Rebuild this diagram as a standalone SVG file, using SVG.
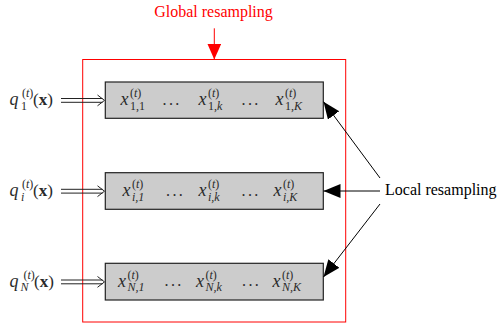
<svg xmlns="http://www.w3.org/2000/svg" width="497" height="324" viewBox="0 0 497 324">
<defs>
<style>
.box{fill:#cccccc;stroke:#222;stroke-width:1.2}
.m{font-family:"Liberation Serif","DejaVu Serif",serif;font-style:italic;font-size:18px;fill:#2a2a2a}
.s{font-family:"Liberation Serif","DejaVu Serif",serif;font-size:12px;fill:#2a2a2a}
.si{font-family:"Liberation Serif","DejaVu Serif",serif;font-style:italic;font-size:12px;fill:#2a2a2a}
.u{font-family:"Liberation Serif","DejaVu Serif",serif;font-size:17px;fill:#2a2a2a}
.b{font-family:"Liberation Serif","DejaVu Serif",serif;font-weight:bold;font-size:17px;fill:#2a2a2a}
.d{font-family:"Liberation Serif","DejaVu Serif",serif;font-size:16px;fill:#2a2a2a;letter-spacing:2.4px}
.lbl{font-family:"Liberation Serif","DejaVu Serif",serif;font-size:16px}
.dbl{stroke:#222;stroke-width:1;fill:none}
.blk{stroke:#000;stroke-width:1;fill:none}
</style>
<marker id="ah" markerUnits="userSpaceOnUse" markerWidth="18" markerHeight="15" refX="17" refY="7" orient="auto">
<path d="M0,0 L17,7 L0,14 z" fill="#000"/>
</marker>
<marker id="ahr" markerUnits="userSpaceOnUse" markerWidth="18" markerHeight="15" refX="16" refY="7" orient="auto">
<path d="M0,0 L16,7 L0,14 z" fill="#ff0000"/>
</marker>
</defs>
<rect width="497" height="324" fill="#fff"/>

<g id="global">
<rect x="82.7" y="59.5" width="263" height="262.5" fill="none" stroke="#ff0000" stroke-width="1"/>
<text class="lbl" x="213.5" y="17" text-anchor="middle" fill="#ff0000">Global resampling</text>
</g>

<g id="row1">
<rect class="box" x="105.3" y="82" width="218" height="36.3"/>
<text class="m" x="120.5" y="105">x</text><text class="s" x="130" y="97">(<tspan class="si">t</tspan>)</text><text class="s" x="130" y="109.5">1,1</text>
<text class="d" x="162.5" y="104.5">...</text>
<text class="m" x="198.5" y="105">x</text><text class="s" x="208" y="97">(<tspan class="si">t</tspan>)</text><text class="s" x="208" y="109.5">1,<tspan class="si">k</tspan></text>
<text class="d" x="241.5" y="104.5">...</text>
<text class="m" x="275.5" y="105">x</text><text class="s" x="285" y="97">(<tspan class="si">t</tspan>)</text><text class="s" x="285" y="109.5">1,<tspan class="si">K</tspan></text>
</g>

<g id="row2">
<rect class="box" x="105.3" y="172.7" width="218" height="36.6"/>
<text class="m" x="122.5" y="196">x</text><text class="s" x="132" y="188">(<tspan class="si">t</tspan>)</text><text class="si" x="132" y="200.5">i<tspan class="s">,1</tspan></text>
<text class="d" x="166" y="195.5">...</text>
<text class="m" x="198.5" y="196">x</text><text class="s" x="208" y="188">(<tspan class="si">t</tspan>)</text><text class="si" x="208" y="200.5">i<tspan class="s">,</tspan>k</text>
<text class="d" x="241.5" y="195.5">...</text>
<text class="m" x="273.5" y="196">x</text><text class="s" x="283" y="188">(<tspan class="si">t</tspan>)</text><text class="si" x="283" y="200.5">i<tspan class="s">,</tspan>K</text>
</g>

<g id="row3">
<rect class="box" x="105.3" y="263.3" width="218" height="36.7"/>
<text class="m" x="118" y="286.5">x</text><text class="s" x="127.5" y="278.5">(<tspan class="si">t</tspan>)</text><text class="si" x="127.5" y="291">N<tspan class="s">,1</tspan></text>
<text class="d" x="164.5" y="286">...</text>
<text class="m" x="196" y="286.5">x</text><text class="s" x="205.5" y="278.5">(<tspan class="si">t</tspan>)</text><text class="si" x="205.5" y="291">N<tspan class="s">,</tspan>k</text>
<text class="d" x="242" y="286">...</text>
<text class="m" x="272.5" y="286.5">x</text><text class="s" x="282" y="278.5">(<tspan class="si">t</tspan>)</text><text class="si" x="282" y="291">N<tspan class="s">,</tspan>K</text>
</g>

<g id="in1">
<text class="m" x="9.5" y="105">q</text><text class="s" x="22" y="97">(<tspan class="si">t</tspan>)</text><text class="s" x="21" y="109.5">1</text>
<text class="u" x="33" y="105">(<tspan class="b">x</tspan>)</text>
</g>
<g id="in2">
<text class="m" x="9.5" y="196">q</text><text class="s" x="22" y="188">(<tspan class="si">t</tspan>)</text><text class="si" x="21" y="200.5">i</text>
<text class="u" x="33" y="196">(<tspan class="b">x</tspan>)</text>
</g>
<g id="in3">
<text class="m" x="9.5" y="286.5">q</text><text class="s" x="23.5" y="278.5">(<tspan class="si">t</tspan>)</text><text class="si" x="20.5" y="291">N</text>
<text class="u" x="34" y="286.5">(<tspan class="b">x</tspan>)</text>
</g>

<g id="local">
<text class="lbl" x="385" y="195" fill="#000">Local resampling</text>
</g>

<g id="connectors">
<path class="dbl" d="M61,98.5 H102.5 M61,102.3 H102.5 M97.5,95 L104.5,100.4 L97.5,105.8"/>
<path class="dbl" d="M61,189.3 H102.5 M61,193.1 H102.5 M97.5,185.8 L104.5,191.2 L97.5,196.6"/>
<path class="dbl" d="M61,280 H102.5 M61,283.8 H102.5 M97.5,276.5 L104.5,281.9 L97.5,287.3"/>
<line x1="214.3" y1="28.3" x2="214.3" y2="59.5" stroke="#ff0000" stroke-width="1" marker-end="url(#ahr)"/>
<line class="blk" x1="380" y1="178" x2="323.5" y2="101.7" marker-end="url(#ah)"/>
<line class="blk" x1="380" y1="191" x2="323.5" y2="191" marker-end="url(#ah)"/>
<line class="blk" x1="380" y1="204" x2="323.5" y2="277" marker-end="url(#ah)"/>
</g>
</svg>
